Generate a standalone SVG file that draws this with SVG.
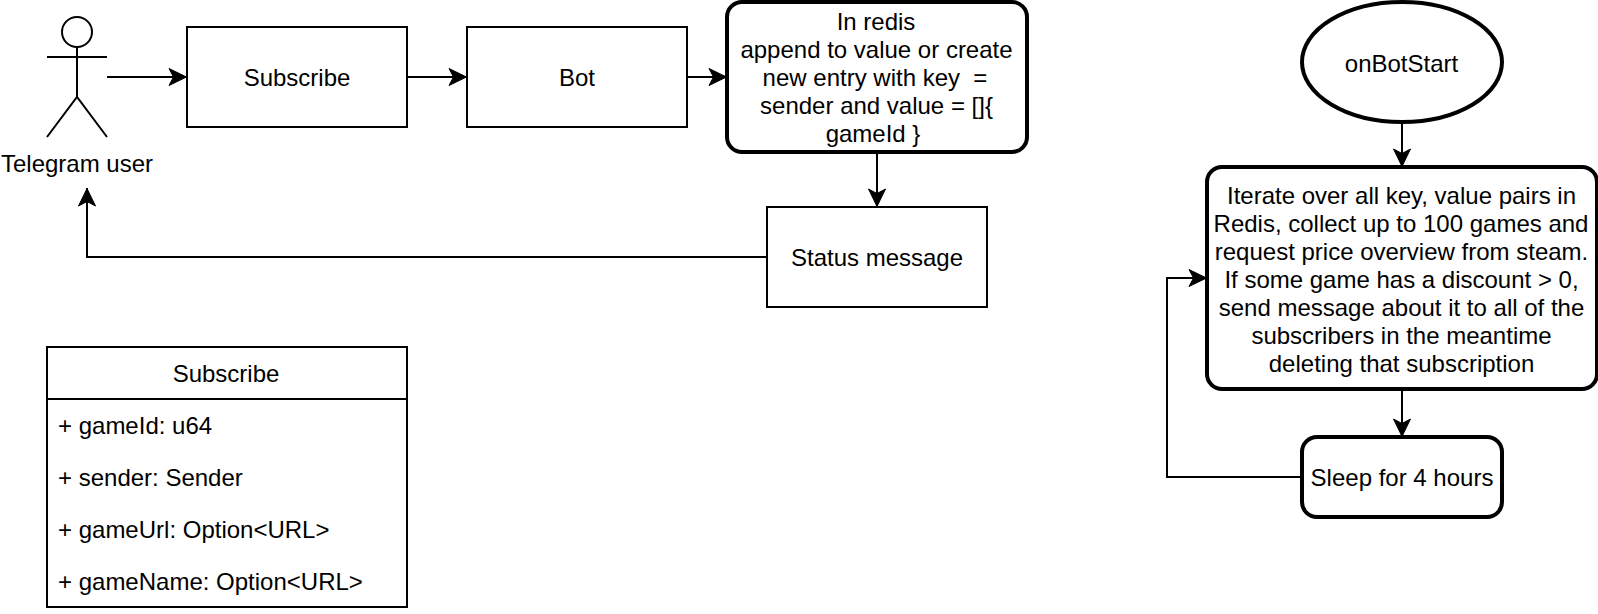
<svg xmlns="http://www.w3.org/2000/svg" width="1598" height="614" viewBox="0 0 1598 614">
<style>
text{font-family:"Liberation Sans",Arial,sans-serif;font-size:24px;fill:#000;text-anchor:middle}
.l{text-anchor:start}
.n{fill:#fff;stroke:#000;stroke-width:2}
.b{fill:#fff;stroke:#000;stroke-width:4}
.s{fill:none;stroke:#000;stroke-width:2}
.c{fill:none;stroke:#000;stroke-width:2;marker-end:url(#a)}
</style>
<defs><marker id="a" markerUnits="userSpaceOnUse" markerWidth="22" markerHeight="22" refX="19" refY="10" orient="auto" overflow="visible"><path d="M1 1.500L18.500 10L1 18.500L5.500 10Z" fill="#000" stroke="#000"/></marker></defs>
<rect width="1598" height="614" fill="#fff"/>
<g id="connectors">
<path class="c" d="M107 77H187"/>
<path class="c" d="M407 77H467"/>
<path class="c" d="M687 77H727"/>
<path class="c" d="M877 152V207"/>
<path class="c" d="M767 257H87V188"/>
<path class="c" d="M1402 122V167"/>
<path class="c" d="M1402 387V437"/>
<path class="c" d="M1302 477H1167V278H1207"/>
</g>
<g id="telegram-user">
<circle class="s" cx="77" cy="32" r="15"/>
<path class="s" d="M77 47V97M47 57H107M47 137L77 97L107 137"/>
<text x="77" y="172">Telegram user</text>
</g>
<g id="subscribe"><rect class="n" x="187" y="27" width="220" height="100"/><text x="297" y="86">Subscribe</text></g>
<g id="bot"><rect class="n" x="467" y="27" width="220" height="100"/><text x="577" y="86">Bot</text></g>
<g id="redis"><rect class="b" x="727" y="2" width="300" height="150" rx="15"/>
<text x="876" y="30">In redis</text><text x="876.500" y="58">append to value or create</text><text x="875" y="86" xml:space="preserve">new entry with key  =</text><text x="876.500" y="114">sender and value = []{</text><text x="873" y="142">gameId }</text></g>
<g id="status"><rect class="n" x="767" y="207" width="220" height="100"/><text x="877" y="266">Status message</text></g>
<g id="subscribe-class"><rect class="n" x="47" y="347" width="360" height="260"/><path class="s" d="M47 399H407"/>
<text x="226" y="382">Subscribe</text>
<text class="l" x="58" y="434">+ gameId: u64</text><text class="l" x="58" y="486">+ sender: Sender</text><text class="l" x="58" y="538">+ gameUrl: Option&lt;URL&gt;</text><text class="l" x="58" y="590">+ gameName: Option&lt;URL&gt;</text></g>
<g id="onbotstart"><ellipse class="b" cx="1402" cy="62" rx="100" ry="60"/><text x="1401.500" y="72">onBotStart</text></g>
<g id="iterate"><rect class="b" x="1207" y="167" width="390" height="222" rx="15"/>
<text x="1401.500" y="204">Iterate over all key, value pairs in</text><text x="1401" y="232">Redis, collect up to 100 games and</text><text x="1401.500" y="260">request price overview from steam.</text><text x="1401.500" y="288">If some game has a discount &gt; 0,</text><text x="1401.500" y="316">send message about it to all of the</text><text x="1401.500" y="344">subscribers in the meantime</text><text x="1401.500" y="372">deleting that subscription</text></g>
<g id="sleep"><rect class="b" x="1302" y="437" width="200" height="80" rx="15"/><text x="1402" y="486">Sleep for 4 hours</text></g>
</svg>
